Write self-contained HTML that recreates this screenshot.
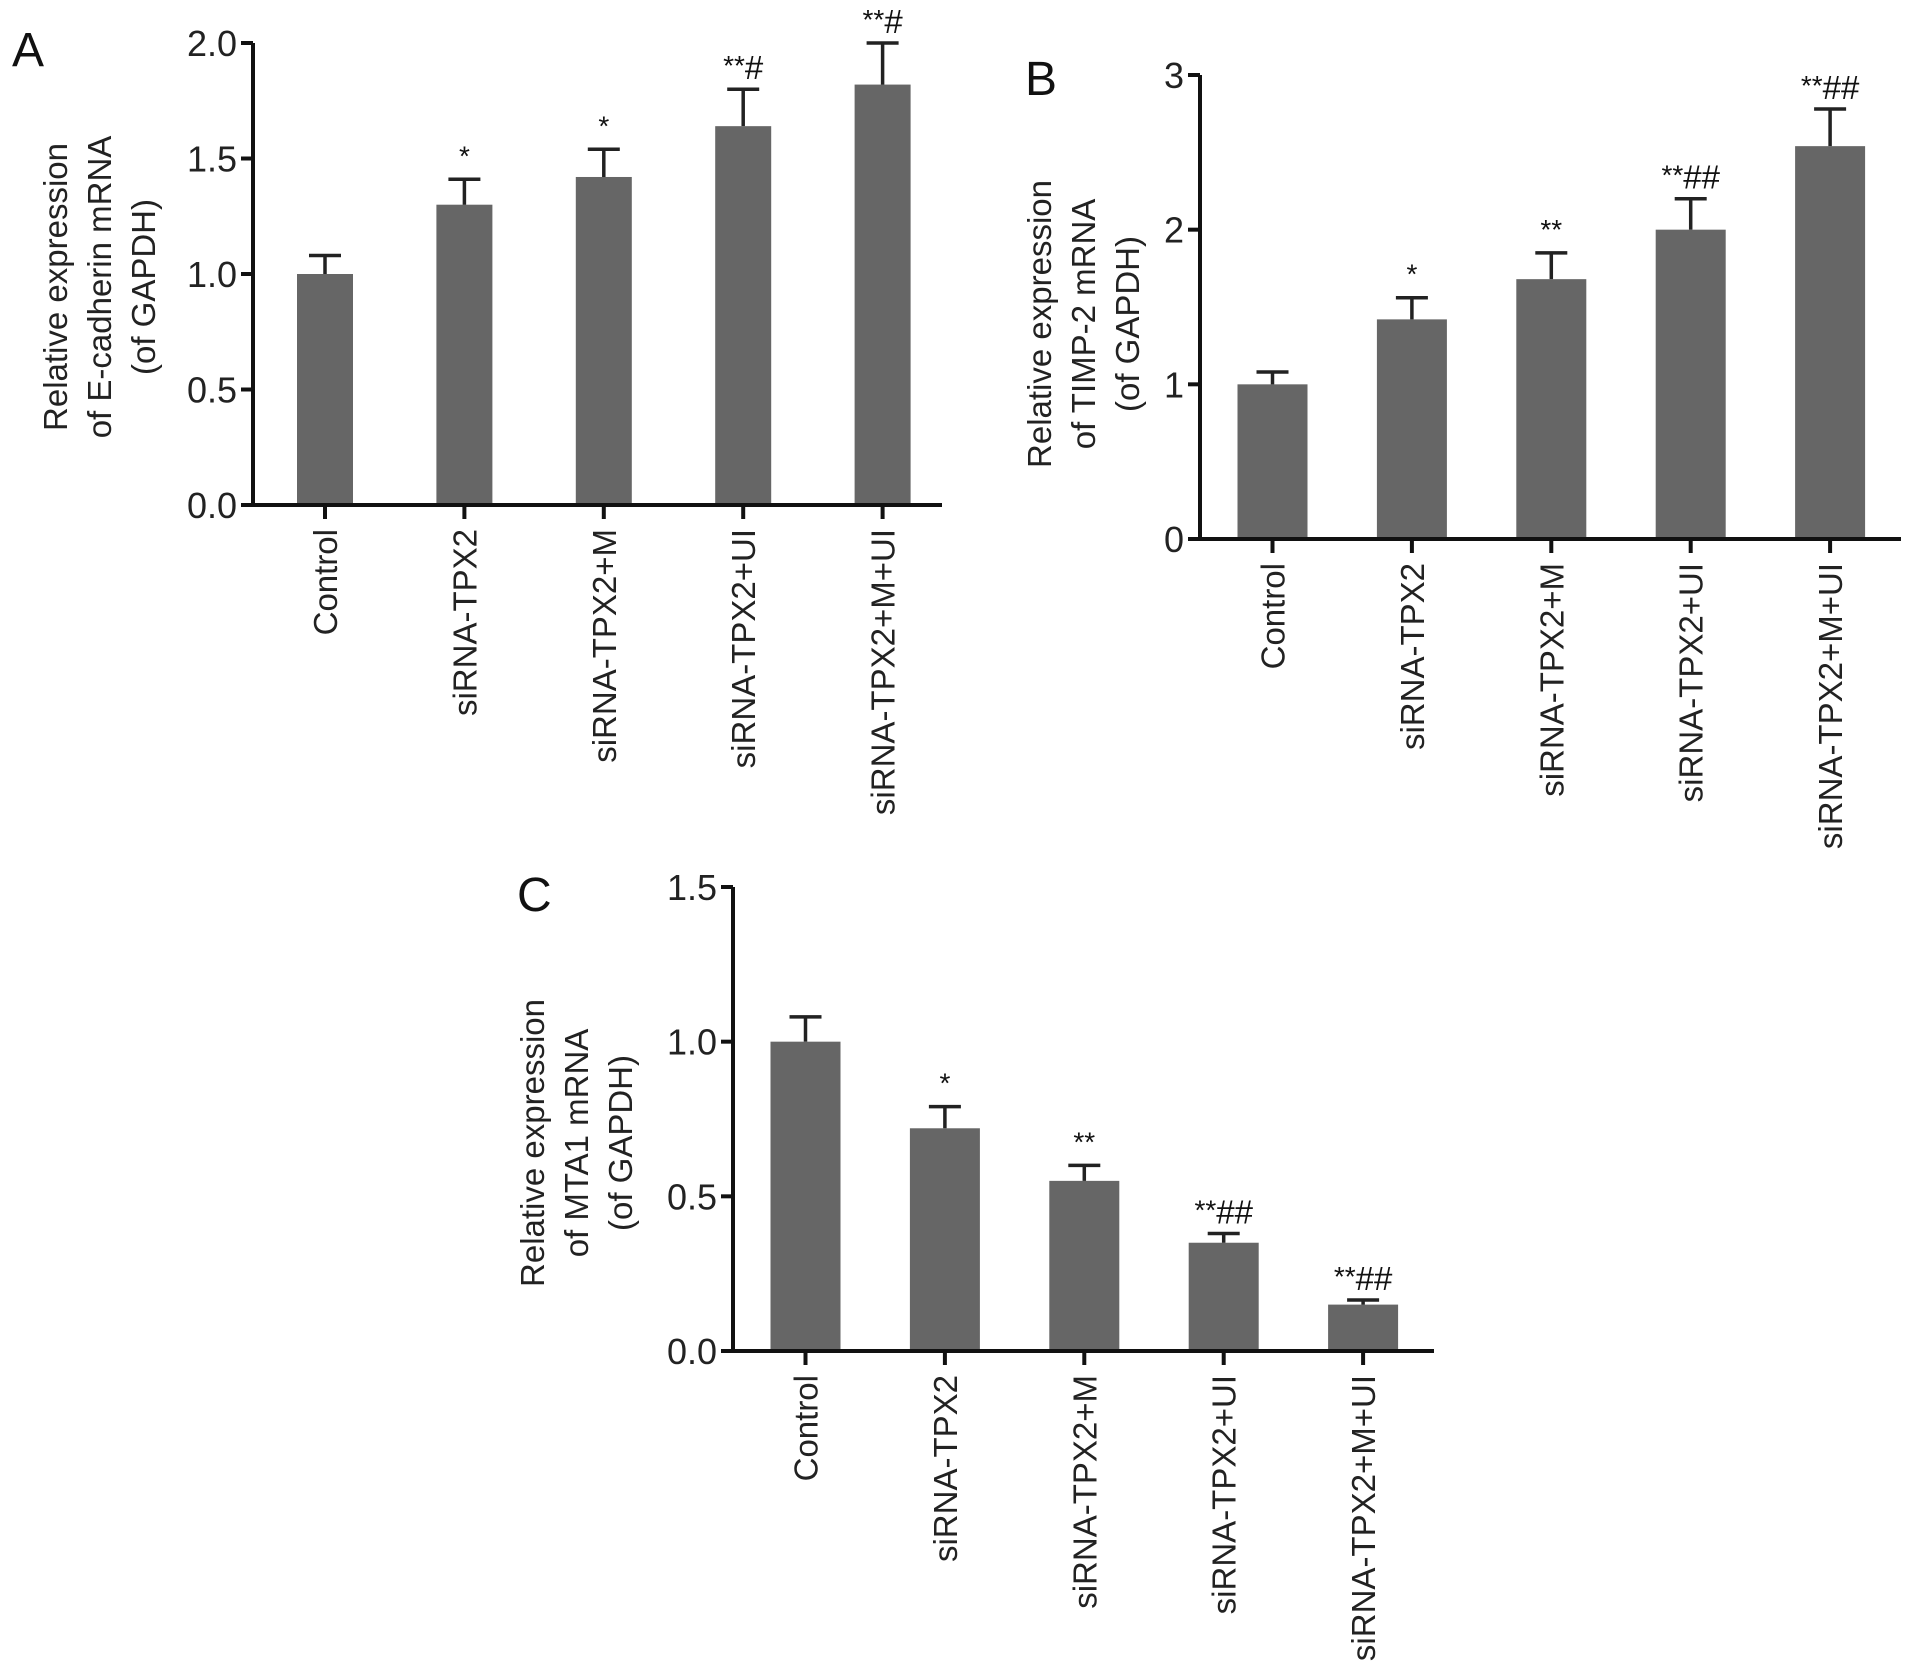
<!DOCTYPE html>
<html><head><meta charset="utf-8"><style>
html,body{margin:0;padding:0;background:#fff;}
svg{display:block;font-family:"Liberation Sans",Arial,sans-serif;}
</style></head><body>
<svg id="fig" width="1913" height="1680" viewBox="0 0 1913 1680" xmlns="http://www.w3.org/2000/svg">
<rect width="1913" height="1680" fill="#fff"/>
</svg>
<script>
const categories = ["Control","siRNA-TPX2","siRNA-TPX2+M","siRNA-TPX2+UI","siRNA-TPX2+M+UI"];
const valuesA = [1.0, 1.30, 1.42, 1.64, 1.82];
const errorsA = [0.08, 0.11, 0.12, 0.16, 0.18];
const starsA = ["", "*", "*", "**", "**"];
const hashA = ["", "", "", "#", "#"];
const ticksA = [0, 0.5, 1.0, 1.5, 2.0];
const tickLabelsA = ["0.0","0.5","1.0","1.5","2.0"];
const valuesB = [1.0, 1.42, 1.68, 2.0, 2.54];
const errorsB = [0.08, 0.14, 0.17, 0.20, 0.24];
const starsB = ["", "*", "**", "**", "**"];
const hashB = ["", "", "", "##", "##"];
const ticksB = [0, 1, 2, 3];
const tickLabelsB = ["0","1","2","3"];
const valuesC = [1.0, 0.72, 0.55, 0.35, 0.15];
const errorsC = [0.08, 0.07, 0.05, 0.03, 0.015];
const starsC = ["", "*", "**", "**", "**"];
const hashC = ["", "", "", "##", "##"];
const ticksC = [0, 0.5, 1.0, 1.5];
const tickLabelsC = ["0.0","0.5","1.0","1.5"];

const NS = "http://www.w3.org/2000/svg";
const svg = document.getElementById('fig');
function mk(tag, attrs, parent, text){
  const e = document.createElementNS(NS, tag);
  for (const k in attrs) e.setAttribute(k, attrs[k]);
  if (text !== undefined) e.textContent = text;
  (parent||svg).appendChild(e);
  return e;
}

function panel(cfg, vals, errs, stars, hashes, ticks, tickLabels){
  const g = mk('g', {});
  
  
  const yMax = ticks[ticks.length-1];
  const y = v => cfg.y0 - (v / yMax) * (cfg.y0 - cfg.yTop);
  const x = i => cfg.c0 + i * cfg.step;
  const lab = mk('text', {x: cfg.lx, y: cfg.ly, 'font-size': 48, fill: '#111'}, g, cfg.id);
  
  
  vals.forEach((v, i) => {
    const top = y(v), et = y(v + errs[i]);
    const b = mk('rect', {x: x(i) - cfg.bw/2, y: top, width: cfg.bw, height: cfg.y0 - top, fill: '#666'}, g);
    
    
    const eb = mk('path', {d: `M${x(i)},${top} V${et} M${x(i)-16},${et} H${x(i)+16}`, stroke: '#222', 'stroke-width': 3.5, fill: 'none'}, g);
    
    
    if (stars[i] || hashes[i]) {
      const t = mk('text', {x: x(i), y: et - 10, 'text-anchor': 'middle', fill: '#111'}, g);
      
      
      mk('tspan', {'font-size': 28, dy: -4}, t, stars[i]);
      if (hashes[i]) mk('tspan', {'font-size': 33, dy: 4}, t, hashes[i]);
    }
  });
  const ax = mk('path', {d: `M${cfg.ax},${cfg.yTop} V${cfg.y0} H${cfg.xEnd}`, stroke: '#111', 'stroke-width': 4, fill: 'none'}, g);
  
  
  ticks.forEach((tv, k) => {
    mk('line', {x1: cfg.ax - 12, x2: cfg.ax, y1: y(tv), y2: y(tv), stroke: '#111', 'stroke-width': 4}, g);
    const tl = mk('text', {x: cfg.ax - 16, y: y(tv) + 13, 'text-anchor': 'end', 'font-size': 36, fill: '#222'}, g, tickLabels[k]);
    
    
  });
  categories.forEach((c, i) => {
    mk('line', {x1: x(i), x2: x(i), y1: cfg.y0, y2: cfg.y0 + 14, stroke: '#111', 'stroke-width': 4}, g);
    const ct = mk('text', {x: 0, y: 0, 'text-anchor': 'end', 'font-size': 33, fill: '#222',
      transform: `translate(${x(i) + 12},${cfg.y0 + 24}) rotate(-90)`}, g, c);
    
    
  });
  const tt = mk('text', {'text-anchor': 'middle', 'font-size': 33, fill: '#222',
    transform: `translate(${cfg.tx},${cfg.ty}) rotate(-90)`}, g);
  
  
  cfg.title.forEach((line, k) => mk('tspan', {x: 0, dy: k === 0 ? 0 : 44}, tt, line));
}

panel({id:'A', lx:12, ly:66, ax:253, y0:505, yTop:43, xEnd:942, c0:325, step:139.4, bw:56, tx:67, ty:287,
  title:['Relative expression','of E-cadherin mRNA','(of GAPDH)']}, valuesA, errorsA, starsA, hashA, ticksA, tickLabelsA);
panel({id:'B', lx:1025, ly:95, ax:1200, y0:539, yTop:75, xEnd:1901, c0:1272.5, step:139.4, bw:70, tx:1051, ty:324,
  title:['Relative expression','of TIMP-2 mRNA','(of GAPDH)']}, valuesB, errorsB, starsB, hashB, ticksB, tickLabelsB);
panel({id:'C', lx:517, ly:911, ax:733, y0:1351, yTop:887, xEnd:1434, c0:805.5, step:139.4, bw:70, tx:544, ty:1143,
  title:['Relative expression','of MTA1 mRNA','(of GAPDH)']}, valuesC, errorsC, starsC, hashC, ticksC, tickLabelsC);
</script>
</body></html>
